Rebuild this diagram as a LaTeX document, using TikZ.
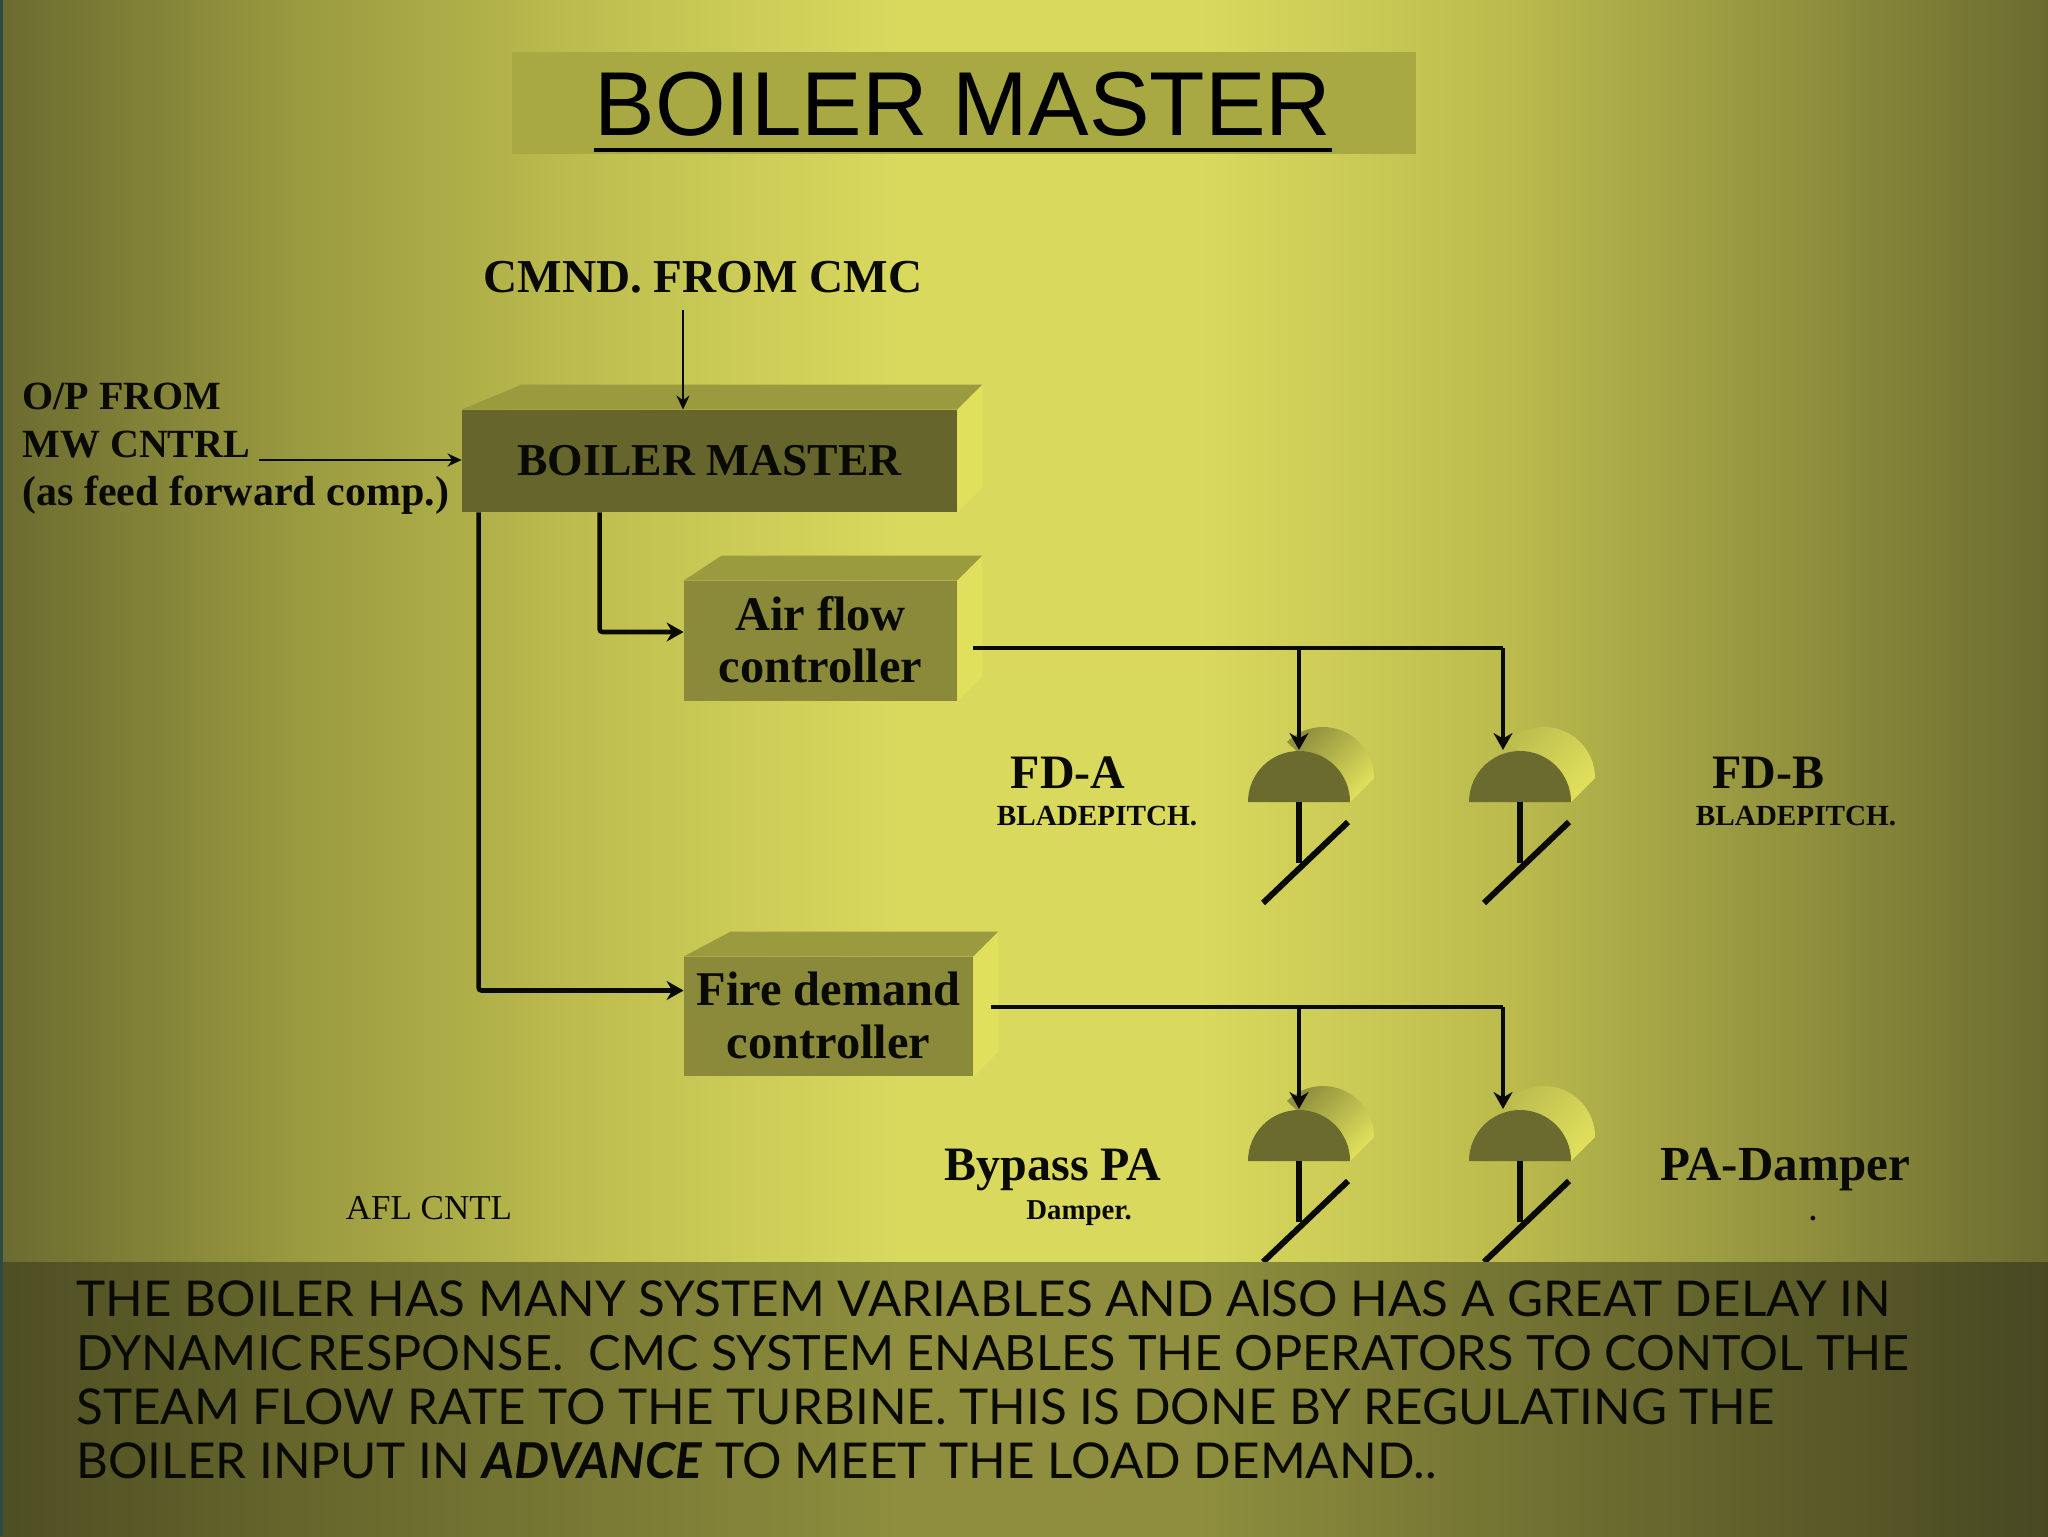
\documentclass[tikz,border=0pt]{standalone}
\usepackage{fontspec}
\setmainfont{Liberation Serif}
\setsansfont{Liberation Sans}
\newfontfamily\comicfont{Lato}
\usetikzlibrary{arrows.meta,positioning,calc}
\definecolor{cInk}{HTML}{0A0A05}
\definecolor{cBgA}{HTML}{6B6B30}
\definecolor{cBgB}{HTML}{9A9A40}
\definecolor{cBgC}{HTML}{BFBF50}
\definecolor{cBgD}{HTML}{D9D95E}
\definecolor{cBgE}{HTML}{BCBC4E}
\definecolor{cBgF}{HTML}{90903E}
\definecolor{cBandA}{HTML}{4E4E24}
\definecolor{cBandB}{HTML}{66662C}
\definecolor{cBandC}{HTML}{8E8E3E}
\definecolor{cBandD}{HTML}{6C6C30}
\definecolor{cBandE}{HTML}{484822}
\definecolor{cTitle}{HTML}{A9A944}
\definecolor{cEdge}{HTML}{2F4A45}
\definecolor{cDark}{HTML}{66662C}
\definecolor{cMid}{HTML}{8A8A3A}
\definecolor{cTop}{HTML}{9A9A3E}
\definecolor{cSide}{HTML}{E0E05C}
\pgfdeclarehorizontalshading{bgshade}{100bp}{color(0bp)=(cBgA); color(25bp)=(cBgA); color(32.3bp)=(cBgB); color(39.6bp)=(cBgC); color(47bp)=(cBgD); color(54.3bp)=(cBgD); color(61.6bp)=(cBgE); color(69bp)=(cBgF); color(75bp)=(cBgA); color(100bp)=(cBgA)}
\pgfdeclarehorizontalshading{bandshade}{100bp}{color(0bp)=(cBandA); color(25bp)=(cBandA); color(32.3bp)=(cBandB); color(47bp)=(cBandC); color(54.3bp)=(cBandC); color(64bp)=(cBandD); color(75bp)=(cBandE); color(100bp)=(cBandE)}
\newcommand{\fsz}[1]{\fontsize{#1pt}{#1pt}\selectfont}
\newcommand{\lift}[1]{\raisebox{1.4pt}{#1}}
\newcommand{\boxfaces}[3]{%
\fill[cTop] (#1.north west) -- ++(#2,25) -- ([shift={(#3,12.5pt)}]#1.north east) -- (#1.north east) -- cycle;
\fill[cSide] (#1.north east) -- ++(#3,25) -- ([shift={(#3,12.5pt)}]#1.south east) -- (#1.south east) -- cycle;}
\tikzset{
  lbl/.style={inner sep=0pt, text=cInk, font=\bfseries\fsz{24}, align=center},
  small/.style={inner sep=0pt, text=cInk, font=\bfseries\fsz{14.6}, align=center},
  boxf/.style={rectangle, inner sep=0pt, text=cInk, font=\bfseries\fsz{24.2}, align=center},
  flow/.style={-{Stealth[length=8.5pt,width=9.5pt]}, line width=2.3pt, draw=cInk, rounded corners=1.5pt},
  feed/.style={-{Stealth[length=7pt,width=6.5pt]}, line width=1pt, draw=cInk},
  trunk/.style={line width=2.3pt, draw=cInk},
  gatepic/.pic={
    \shade[bottom color=#1, top color=cSide, shading angle=-135] (51,0) -- ++(24,24) arc (0:135:51) -- cycle;
    \fill[cBgA] (51,0) arc (0:180:51) -- cycle;
    \draw[line width=3pt, cInk] (0,0) -- (0,-61);
    \draw[line width=3pt, cInk] (-36,-101) -- (49,-20);
  },
}
\begin{document}
\begin{tikzpicture}[x=0.5pt,y=0.5pt]
\useasboundingbox (0,-1536) rectangle (2048,0);
\shade[shading=bgshade] (0,-1536) rectangle (2048,0);
\fill[cEdge] (0,-1536) rectangle (3,0);
\fill[cTitle] (512,-154) rectangle (1416,-52);
\node[inner sep=0pt, anchor=base, text=black, font=\sffamily\fsz{45.4}] (ttl) at (963,-135) {BOILER MASTER};
\draw[line width=2pt, black] (ttl.base west |- 0,-150) -- (ttl.base east |- 0,-150);

\node[lbl, font=\bfseries\fsz{23.6}] (cmnd) at (703,-277) {CMND. FROM CMC};
\node[lbl, font=\bfseries\fsz{20}, align=left, anchor=west] (mw) at (22,-449) {O/P FROM\\[4pt]MW CNTRL\\[4pt]{\fsz{21}(as feed forward comp.)}};

\node[boxf, fill=cDark, font=\bfseries\fsz{22.8}, minimum width=247.5pt, minimum height=51pt] (bm) at (709.5,-461) {BOILER MASTER};
\node[boxf, fill=cMid, minimum width=136.5pt, minimum height=60pt] (air) at (820.5,-641) {\lift{Air flow}\\[2pt]\lift{controller}};
\node[boxf, fill=cMid, minimum width=144.5pt, minimum height=59.5pt] (fire) at (828.5,-1016.5) {\lift{Fire demand}\\[2pt]\lift{controller}};
\boxfaces{bm}{60}{25}
\boxfaces{air}{38}{25}
\boxfaces{fire}{47}{25}

\pic at (1299,-802) {gatepic=cBgF};
\pic at (1520,-802) {gatepic=cBgC};
\pic at (1299,-1161) {gatepic=cBgF};
\pic at (1520,-1161) {gatepic=cBgC};
\coordinate (ga) at (1299,-750);
\coordinate (gb) at (1503,-750);
\coordinate (gc) at (1299,-1109);
\coordinate (gd) at (1503,-1109);
\coordinate (airo) at (973,-648);
\coordinate (fireo) at (991,-1007);

\draw[feed] ([yshift=-8.5pt]cmnd.south -| 683,0) -- (bm.north -| 683,0);
\draw[feed] (259,-460) -- (bm.west |- 0,-460);
\draw[flow] ([xshift=8.5pt]bm.south west) |- ([yshift=13pt]fire.west);
\draw[flow] ([xshift=69pt]bm.south west) |- ([yshift=4.5pt]air.west);
\draw[trunk] (airo) -- (airo -| gb);
\draw[flow] (airo -| ga) -- (ga);
\draw[flow, rounded corners=0pt] (airo -| gb) -- (gb);
\draw[trunk] (fireo) -- (fireo -| gd);
\draw[flow] (fireo -| gc) -- (gc);
\draw[flow, rounded corners=0pt] (fireo -| gd) -- (gd);

\node[lbl] (fda) at (1068,-773) {FD-A};
\node[small] (fdat) at (1097,-816) {BLADEPITCH.};
\node[lbl] (fdb) at (1768,-773) {FD-B};
\node[small] (fdbt) at (1796,-816) {BLADEPITCH.};
\node[lbl] (bpa) at (1053,-1170) {Bypass PA};
\node[small, font=\bfseries\fsz{14.4}] (bpat) at (1079,-1213) {Damper.};
\node[lbl, font=\bfseries\fsz{24.5}] (pad) at (1785,-1170) {PA-Damper};
\node[small] (padt) at (1813,-1219) {.};
\node[small, font=\fsz{17.5}] (afl) at (429,-1208) {AFL CNTL};

\shade[shading=bandshade] (0,-1536) rectangle (2048,-1262);
\fill[cEdge] (0,-1536) rectangle (3,-1262);
\node[inner sep=0pt, anchor=north west, text=cInk, align=left, font=\comicfont\fsz{24.7}] (note) at (76,-1280) {THE BOILER HAS MANY SYSTEM VARIABLES AND AlSO HAS A GREAT DELAY IN\\[2.3pt]{\fsz{24.3}DYNAMIC\hspace{-4pt} RESPONSE.\ \ CMC SYSTEM ENABLES THE OPERATORS TO CONTOL THE}\\[2.3pt]STEAM FLOW RATE TO THE TURBINE. THIS IS DONE BY REGULATING THE\\[2.3pt]BOILER INPUT IN {\bfseries\itshape ADVANCE} TO MEET THE LOAD DEMAND..};
\end{tikzpicture}
\end{document}
